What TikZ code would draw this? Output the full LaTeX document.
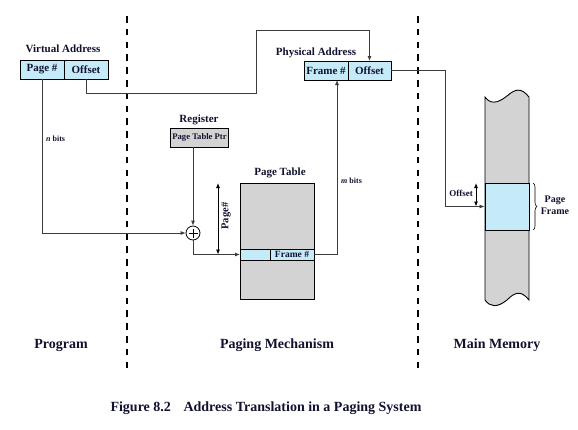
\documentclass[tikz,border=0pt]{standalone}
\usepackage{fontspec}
\setmainfont{Liberation Serif}
\usetikzlibrary{arrows.meta,decorations.pathreplacing}
\definecolor{txt}{RGB}{18,18,48}
\definecolor{cellblue}{RGB}{197,234,248}
\definecolor{boxgray}{RGB}{211,211,211}
\definecolor{linegray}{RGB}{60,60,60}
\tikzset{
  lbl/.style={font=\fontsize{11}{12}\selectfont\bfseries, text=txt, inner sep=0pt},
  biglbl/.style={font=\fontsize{14}{16}\selectfont\bfseries, text=txt, inner sep=0pt},
  small/.style={font=\fontsize{8}{9}\selectfont\bfseries, text=txt, inner sep=0pt},
  cell/.style={draw=black, fill=cellblue, line width=0.8pt, inner sep=0pt, outer sep=0pt,
    font=\fontsize{11}{12}\selectfont\bfseries, text=txt},
  conn/.style={draw=linegray, line width=0.8pt},
  arr/.style={conn, -{Latex[length=5pt,width=4pt]}},
  darr/.style={draw=black, line width=0.8pt, {Latex[length=5pt,width=4pt]}-{Latex[length=5pt,width=4pt]}},
  divider/.style={draw=black, line width=2.6pt, dash pattern=on 6.5pt off 6.3pt},
}
\begin{document}
\begin{tikzpicture}[x=1pt,y=-1pt]
\useasboundingbox[fill=white] (0,0) rectangle (578,429);

% dashed dividers
\draw[divider] (127,16) -- (127,370);
\draw[divider] (418,16) -- (418,370);

% Virtual address
\node[lbl] (valbl) at (63,49) {Virtual Address};
\node[cell, minimum width=44pt, minimum height=19pt] (vpage) at (42,69.5) {Page \#};
\node[cell, minimum width=44pt, minimum height=19pt] (voff) at (86,69.5) {Offset};

% Physical address
\node[lbl] (palbl) at (316,53) {Physical Address};
\node[cell, minimum width=44pt, minimum height=19pt] (pframe) at (326,70.5) {Frame \#};
\node[cell, minimum width=43pt, minimum height=19pt] (poff) at (369.5,70.5) {Offset};

% Register
\node[lbl] (reglbl) at (199,120) {Register};
\node[draw=black, fill=boxgray, line width=0.8pt, inner sep=0pt, minimum width=58pt, minimum height=19pt,
  font=\fontsize{8.6}{9}\selectfont\bfseries, text=txt] (reg) at (199.5,137.5) {Page Table Ptr};

% adder
\node[circle, draw=black, line width=0.8pt, fill=white, minimum size=14pt, inner sep=0pt] (circ) at (193,233) {};
\draw[line width=0.8pt] (circ.center) +(-4.5,0) -- +(4.5,0);
\draw[line width=0.8pt] (circ.center) +(0,-4.5) -- +(0,4.5);

% Page table
\node[lbl] (ptlbl) at (280,173) {Page Table};
\node[draw=black, fill=boxgray, line width=0.9pt, inner sep=0pt, minimum width=74pt, minimum height=116pt] (ptab) at (277,241) {};
\node[cell, minimum width=30pt, minimum height=11pt] (rowl) at (255,254.5) {};
\node[cell, minimum width=44pt, minimum height=11pt, font=\fontsize{9.5}{10}\selectfont\bfseries] (rowf) at (292,254.5) {Frame \#};

% Page# extent arrow
\coordinate (pgtop) at (218,183);
\coordinate (pgbot) at (218,254.5);
\draw[darr] (pgtop) -- (pgbot);
\node[font=\fontsize{10.5}{11}\selectfont\bfseries, text=txt, rotate=90, inner sep=0pt] (pglbl) at (226,216) {Page\#};

% Main memory column
\fill[boxgray] (485,97) .. controls (490,104) and (497,104) .. (507,96)
  .. controls (515,89) and (521,87) .. (529,97) -- (529,300)
  .. controls (521,290) and (515,292) .. (507,300)
  .. controls (497,308) and (490,307) .. (485,300) -- cycle;
\draw[line width=0.9pt] (485,300) -- (485,97) .. controls (490,104) and (497,104) .. (507,96)
  .. controls (515,89) and (521,87) .. (529,97) -- (529,300)
  .. controls (521,290) and (515,292) .. (507,300)
  .. controls (497,308) and (490,307) .. (485,300);
\node[draw=black, fill=cellblue, line width=0.9pt, inner sep=0pt, minimum width=44pt, minimum height=47pt] (mframe) at (507,206.5) {};
\coordinate (offtop) at (476,183);
\coordinate (offbot) at (476,206.5);
\draw[darr] (offtop) -- (offbot);
\node[font=\fontsize{9}{10}\selectfont\bfseries, text=txt, inner sep=0pt, anchor=east] (offlbl) at (473,193.5) {Offset};
\coordinate (brtop) at (533,183);
\coordinate (brbot) at (533,230);
\draw[line width=0.6pt, decorate, decoration={brace, amplitude=4pt}] (brtop) -- (brbot);
\node[font=\fontsize{10}{12}\selectfont\bfseries, text=txt, inner sep=0pt, align=center] (pflbl) at (555,205.5) {Page\\Frame};

% connectors
\coordinate (k1) at (256,93);
\coordinate (k2) at (256,30);
\draw[arr] (voff.south) |- (k1) -- (k2) -| (poff.north);
\draw[arr] (vpage.south) |- (circ.west);
\draw[arr] (circ |- reg.south) -- (circ.north);
\draw[arr] (circ.south) |- (rowl.west);
\coordinate (k4) at (337,254.5);
\draw[arr] (rowf.east) -- (k4) -- (k4 |- pframe.south);
\coordinate (k3) at (445,206.5);
\draw[arr] (poff.east) -| (k3) -- (mframe.west);

% bit labels
\node[small, anchor=west] (nbits) at (46,139) {\textit{n} bits};
\node[small, anchor=west] (mbits) at (341,180.5) {\textit{m} bits};

% region labels
\node[biglbl] (prog) at (61,345) {Program};
\node[biglbl] (pmech) at (277,345) {Paging Mechanism};
\node[biglbl] (mmem) at (497,345) {Main Memory};

% caption
\node[biglbl] (cap) at (266,408) {Figure 8.2\hspace{0.9em}Address Translation in a Paging System};
\end{tikzpicture}
\end{document}
